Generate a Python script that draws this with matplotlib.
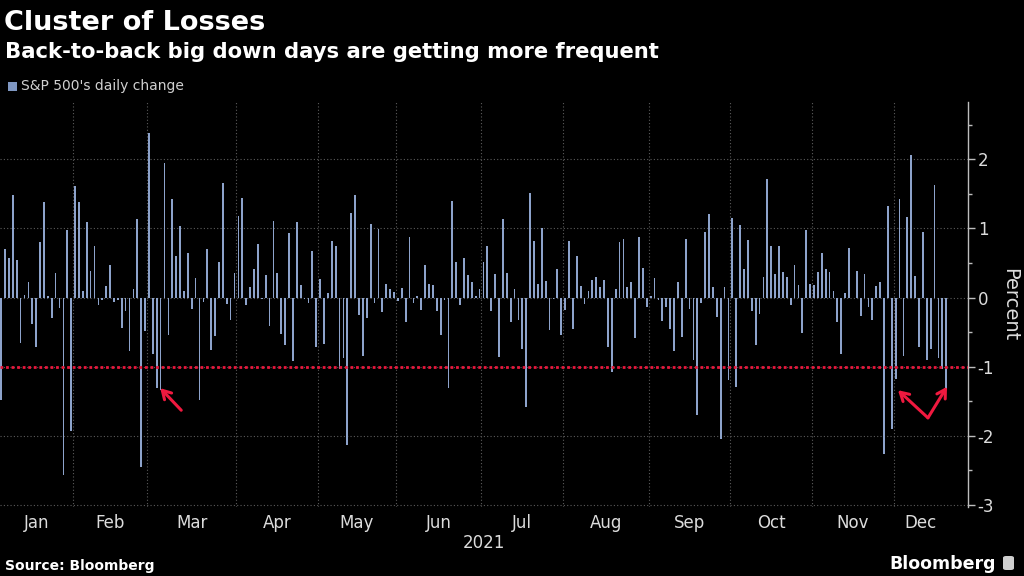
import numpy as np
import matplotlib
matplotlib.use("Agg")
import matplotlib.pyplot as plt
from matplotlib.patches import Rectangle, FancyBboxPatch
from matplotlib.ticker import MultipleLocator

plt.rcParams['axes.unicode_minus'] = False
NARROW = ['Liberation Sans Narrow', 'DejaVu Sans']

# S&P 500 daily % change, 2021, one value per trading day
months = ["Jan", "Feb", "Mar", "Apr", "May", "Jun", "Jul", "Aug", "Sep", "Oct", "Nov", "Dec"]
jan = [-1.48, 0.71, 0.57, 1.48, 0.55, -0.66, 0.04, 0.23, -0.38, -0.72, 0.81, 1.39, 0.03, -0.30, 0.36, -0.15,
       -2.57, 0.98, -1.93]
feb = [1.61, 1.39, 0.10, 1.09, 0.39, 0.74, -0.11, -0.03, 0.17, 0.47, -0.06, -0.03, -0.44, -0.19, -0.77, 0.13,
       1.14, -2.45, -0.48]
mar = [2.38, -0.81, -1.31, -1.34, 1.95, -0.54, 1.42, 0.60, 1.04, 0.10, 0.65, -0.16, 0.29, -1.48, -0.06, 0.70,
       -0.76, -0.55, 0.52, 1.66, -0.09, -0.32, 0.36]
apr = [1.18, 1.44, -0.10, 0.15, 0.42, 0.77, -0.02, 0.33, -0.41, 1.11, 0.36, -0.53, -0.68, 0.93, -0.92, 1.09,
       0.18, -0.02, -0.08, 0.68, -0.72]
may = [0.27, -0.67, 0.07, 0.82, 0.74, -1.04, -0.87, -2.14, 1.22, 1.49, -0.25, -0.85, -0.29, 1.06, -0.08, 0.99,
       -0.21, 0.19, 0.12, 0.08]
jun = [-0.05, 0.14, -0.36, 0.88, -0.08, 0.02, -0.18, 0.47, 0.19, 0.18, -0.20, -0.54, -0.04, -1.31, 1.40, 0.51,
       -0.11, 0.58, 0.33, 0.23, 0.03, 0.13]
jul = [0.52, 0.75, -0.20, 0.34, -0.86, 1.13, 0.35, -0.35, 0.12, -0.33, -0.75, -1.59, 1.52, 0.82, 0.20, 1.01,
       0.24, -0.47, -0.02, 0.42, -0.54]
aug = [-0.18, 0.82, -0.46, 0.60, 0.17, -0.09, 0.10, 0.25, 0.30, 0.16, 0.26, -0.71, -1.07, 0.13, 0.81, 0.85,
       0.15, 0.22, -0.58, 0.88, 0.43, -0.13]
sep = [0.03, 0.28, -0.03, -0.34, -0.13, -0.46, -0.77, 0.23, -0.57, 0.85, -0.16, -0.91, -1.70, -0.08, 0.95, 1.21,
       0.15, -0.28, -2.04, 0.16, -1.19]
oct_ = [1.15, -1.30, 1.05, 0.41, 0.83, -0.19, -0.69, -0.24, 0.30, 1.71, 0.75, 0.34, 0.74, 0.37, 0.30, -0.11,
        0.47, 0.18, -0.51, 0.98, 0.19]
nov = [0.18, 0.37, 0.65, 0.42, 0.37, 0.09, -0.35, -0.82, 0.06, 0.72, -0.00, 0.39, -0.26, 0.34, -0.14, -0.32,
       0.17, 0.23, -2.27, 1.32, -1.90]
dec = [-1.18, 1.42, -0.84, 1.17, 2.07, 0.31, -0.72, 0.95, -0.91, -0.75, 1.63, -0.87, -1.03, -1.32]

by_month = [jan, feb, mar, apr, may, jun, jul, aug, sep, oct_, nov, dec]
daily_change = np.concatenate(by_month)
x = np.arange(len(daily_change))

# month boundaries / label centres in trading-day index
counts = np.array([len(m) for m in by_month])
starts = np.concatenate([[0], np.cumsum(counts)[:-1]])
centres = starts + (counts - 1) / 2
bounds = starts[1:] - 0.5

fig = plt.figure(figsize=(10.24, 5.76), dpi=100, facecolor='black')
ax = fig.add_axes([0, 1 - 507 / 576, 968 / 1024, 405 / 576])
ax.set_facecolor('black')

ax.bar(x, daily_change, width=0.45, color='#8da3cb', linewidth=0, zorder=2)
ax.axhline(-1, color='#e8173c', linestyle=(0, (1, 1)), linewidth=2, zorder=3)

ax.set_xlim(-0.3, 248.6)
ax.set_ylim(-3.03, 2.83)

for s in ['left', 'top', 'bottom']:
    ax.spines[s].set_visible(False)
ax.spines['right'].set_color('#bdbdbd')
ax.spines['right'].set_linewidth(1)

ax.yaxis.tick_right()
ax.set_yticks([-3, -2, -1, 0, 1, 2])
ax.yaxis.set_minor_locator(MultipleLocator(0.5))
ax.tick_params(axis='y', which='major', length=5, width=1, color='#bdbdbd', labelcolor='#dcdcdc',
               labelsize=12, pad=2)
ax.tick_params(axis='y', which='minor', length=3, width=1, color='#bdbdbd')
for lab in ax.get_yticklabels():
    lab.set_family(NARROW)

ax.set_xticks(centres)
ax.set_xticklabels(months, family=NARROW)
ax.set_xticks(bounds, minor=True)
ax.tick_params(axis='x', which='both', length=0, labelcolor='#dcdcdc', labelsize=12, pad=5)

ax.grid(axis='y', which='major', color='#5c5c5c', linestyle=(0, (1, 2)), linewidth=0.8, zorder=0)
ax.grid(axis='x', which='minor', color='#5c5c5c', linestyle=(0, (1, 2)), linewidth=0.8, zorder=0)
ax.set_axisbelow(True)

# arrows
arrow = dict(arrowstyle='->,head_length=0.6,head_width=0.35', color='#f0193f', lw=2.2, shrinkA=0, shrinkB=0)
ax.annotate('', xy=(40.9, -1.31), xytext=(46.3, -1.63), arrowprops=arrow)
ax.annotate('', xy=(230.6, -1.34), xytext=(238.3, -1.74), arrowprops=arrow)
ax.annotate('', xy=(243.2, -1.29), xytext=(238.3, -1.74), arrowprops=arrow)

# texts
fig.text(4 / 1024, 1 - 30 / 576, "Cluster of Losses", color='white', fontsize=19.5, fontweight='bold',
         family='DejaVu Sans', va='baseline')
fig.text(5 / 1024, 1 - 58 / 576, "Back-to-back big down days are getting more frequent", color='white',
         fontsize=15.2, fontweight='bold', family='DejaVu Sans', va='baseline')
fig.patches.append(Rectangle((8 / 1024, 1 - 91 / 576), 9 / 1024, 9 / 576, transform=fig.transFigure,
                             facecolor='#7f97c2', edgecolor='none'))
fig.text(21 / 1024, 1 - 86 / 576, "S&P 500's daily change", color='#d0d0d0', fontsize=10,
         family='DejaVu Sans', va='center')
fig.text(1010 / 1024, 1 - 305 / 576, "Percent", color='#dcdcdc', fontsize=14, rotation=270,
         ha='center', va='center', family='DejaVu Sans')
fig.text(484 / 1024, 1 - 543 / 576, "2021", color='#dcdcdc', fontsize=12, ha='center', va='center',
         family=NARROW)
fig.text(5 / 1024, 1 - 570 / 576, "Source: Bloomberg", color='white', fontsize=10, fontweight='bold',
         family='DejaVu Sans', va='baseline')
fig.text(996 / 1024, 1 - 569 / 576, "Bloomberg", color='white', fontsize=12.5, fontweight='bold',
         family='DejaVu Sans', va='baseline', ha='right')
fig.patches.append(FancyBboxPatch((1003 / 1024, 1 - 570 / 576), 11 / 1024, 14 / 576,
                                  boxstyle='round,pad=0,rounding_size=0.003', transform=fig.transFigure,
                                  facecolor='#cfcfcf', edgecolor='none'))

fig.savefig('out.png', dpi=100, facecolor='black')
